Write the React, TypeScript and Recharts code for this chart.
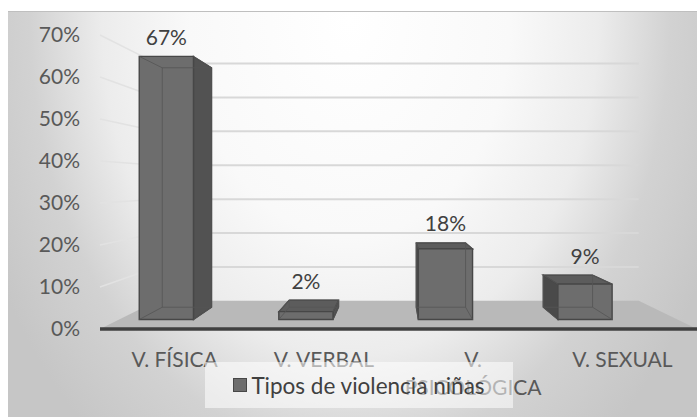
import { BarChart, Bar, XAxis, YAxis, CartesianGrid, Legend, Text } from "recharts";

const categories = ["V. FÍSICA", "V. VERBAL", "V. PSICOLÓGICA", "V. SEXUAL"];
const values = [67, 2, 18, 9];
const yTicks = [0, 10, 20, 30, 40, 50, 60, 70];
const seriesName = "Tipos de violencia niñas";

const data = categories.map((name, i) => ({ name, value: values[i] }));

const FONT = "Lato, 'Open Sans', sans-serif";

// 3D look (chart coordinates)
const VP = { x: 387, y: 171 }; // vanishing point for walls, floor and bar depth
const WALL_K = 0.807; // back wall depth
const BAR_VX = 34; // bars sit a bit behind the floor's front edge
const BAR_K = 0.935;
const BAR_DEPTH = 0.91;

type Pt = { x: number; y: number };
const toBack = (p: Pt, k: number): Pt => ({ x: VP.x + (p.x - VP.x) * k, y: VP.y + (p.y - VP.y) * k });
const pts = (...ps: Pt[]) => ps.map((p) => `${p.x},${p.y}`).join(" ");

function WallLine(props: any) {
    const { x1, y1, x2, y, height, index } = props;
    const a = toBack({ x: x1, y: y1 }, WALL_K);
    const b = toBack({ x: x2, y: y1 }, WALL_K);
    const isFloor = y != null && height != null ? Math.abs(y1 - (y + height)) < 1 : index === 0;

    if (isFloor) {
        return (
            <polygon
                key={`floor-${index}`}
                points={pts({ x: x1, y: y1 }, { x: x2, y: y1 }, b, a)}
                fill="#b9b9b9"
            />
        );
    }

    return (
        <g key={`wall-${index}`}>
            <line x1={x1} y1={y1} x2={a.x} y2={a.y} stroke="#e2e2e2" strokeWidth={1.5} />
            <line x1={a.x} y1={a.y} x2={b.x} y2={b.y} stroke="#d8d8d8" strokeWidth={2} />
        </g>
    );
}

function Box3D(props: any) {
    const { x, y, width, height, value } = props;
    const f = (px: number, py: number): Pt => ({
        x: BAR_VX + (px - BAR_VX) * BAR_K,
        y: VP.y + (py - VP.y) * BAR_K,
    });

    const ftl = f(x, y);
    const ftr = f(x + width, y);
    const fbl = f(x, y + height);
    const fbr = f(x + width, y + height);
    const btl = toBack(ftl, BAR_DEPTH);
    const btr = toBack(ftr, BAR_DEPTH);
    const bbl = toBack(fbl, BAR_DEPTH);
    const bbr = toBack(fbr, BAR_DEPTH);

    const edge = "#474747";

    return (
        <g>
            {btr.x > ftr.x && (
                <polygon points={pts(ftr, btr, bbr, fbr)} fill="#525252" stroke={edge} strokeWidth={1.2} />
            )}
            {btl.x < ftl.x && (
                <polygon points={pts(ftl, btl, bbl, fbl)} fill="#4a4a4a" stroke={edge} strokeWidth={1.2} />
            )}
            {btl.y < ftl.y && (
                <polygon points={pts(ftl, ftr, btr, btl)} fill="#5c5c5c" stroke={edge} strokeWidth={1.2} />
            )}
            <polygon points={pts(ftl, ftr, fbr, fbl)} fill="#6d6d6d" stroke={edge} strokeWidth={1.4} />

            {/* see-through edges of the back */}
            <g stroke="#555" strokeWidth={1} strokeOpacity={0.8} fill="none">
                <polygon points={pts(btl, btr, bbr, bbl)} />
                <line x1={ftl.x} y1={ftl.y} x2={btl.x} y2={btl.y} />
                <line x1={ftr.x} y1={ftr.y} x2={btr.x} y2={btr.y} />
                <line x1={fbl.x} y1={fbl.y} x2={bbl.x} y2={bbl.y} />
                <line x1={fbr.x} y1={fbr.y} x2={bbr.x} y2={bbr.y} />
            </g>

            <text
                x={(ftl.x + ftr.x) / 2}
                y={Math.min(ftl.y, btl.y) - 20}
                textAnchor="middle"
                dominantBaseline="central"
                fontSize={21}
                fontFamily={FONT}
                fill="#404040"
            >
                {value}%
            </text>
        </g>
    );
}

function CategoryTick(props: any) {
    const { x, y, payload } = props;
    return (
        <Text
            x={x}
            y={y + 15}
            width={105}
            textAnchor="middle"
            verticalAnchor="start"
            lineHeight={28}
            fontSize={21}
            fontFamily={FONT}
            fill="#595959"
        >
            {payload.value}
        </Text>
    );
}

function LegendBox(props: any) {
    const name = props.payload?.[0]?.value ?? seriesName;
    return (
        <div
            style={{
                display: "flex",
                alignItems: "center",
                justifyContent: "center",
                height: "100%",
                background: "rgba(255,255,255,0.55)",
                fontFamily: FONT,
                fontSize: 22.5,
                color: "#404040",
            }}
        >
            <span
                style={{
                    display: "inline-block",
                    width: 12,
                    height: 12,
                    background: "#6d6d6d",
                    border: "1.5px solid #474747",
                    marginRight: 4,
                }}
            />
            {name}
        </div>
    );
}

export default function App() {
    return (
        <div
            style={{
                position: "absolute",
                left: 8,
                top: 11,
                width: 689,
                height: 405,
                borderTop: "1px solid #bfbfbf",
                background:
                    "radial-gradient(ellipse 400px 540px at 342px 9px, #ffffff 0%, #f9f9f9 40%, #ececec 62%, #d2d2d2 80%, #c6c6c6 100%)",
            }}
        >
            <BarChart
                width={689}
                height={405}
                data={data}
                margin={{ top: 23, right: 0, bottom: 0, left: 0 }}
                barSize={58}
            >
                <CartesianGrid vertical={false} horizontal={WallLine} />
                <XAxis
                    dataKey="name"
                    interval={0}
                    height={88}
                    tickLine={false}
                    axisLine={{ stroke: "#404040", strokeWidth: 3.5 }}
                    tick={<CategoryTick />}
                />
                <YAxis
                    domain={[0, 70]}
                    ticks={yTicks}
                    width={92}
                    axisLine={false}
                    tickLine={false}
                    tickMargin={14}
                    tickFormatter={(v) => `${v}%`}
                    tick={{ fontSize: 21, fontFamily: FONT, fill: "#595959" }}
                />
                <Legend
                    layout="horizontal"
                    verticalAlign="middle"
                    align="center"
                    content={<LegendBox />}
                    wrapperStyle={{ left: 197, top: 350, width: 308, height: 46 }}
                />
                <Bar dataKey="value" name={seriesName} shape={<Box3D />} isAnimationActive={false} />
            </BarChart>
        </div>
    );
}
